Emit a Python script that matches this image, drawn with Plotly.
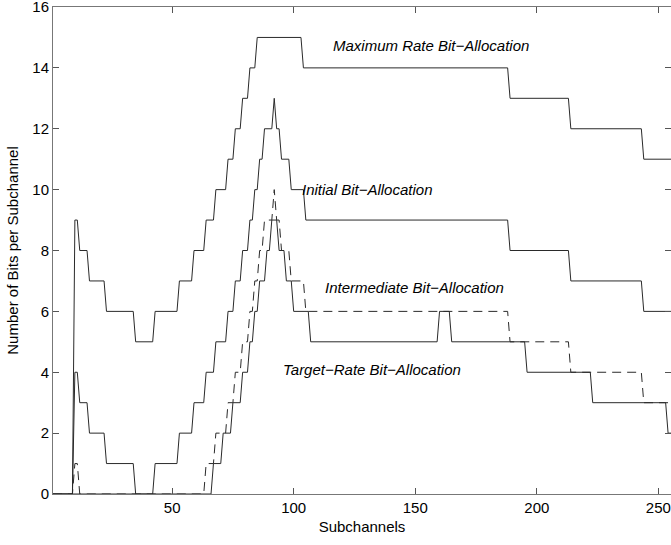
import plotly.graph_objects as go

N_SUB = 256
subchannels = list(range(1, N_SUB + 1))

# Run-length data: start subchannel of each run and its bit level
max_starts = [1, 10, 12, 16, 23, 35, 43, 53, 59, 64, 68, 73, 76, 79, 82, 85, 104, 189, 214, 244]
max_levels = [0, 9, 8, 7, 6, 5, 6, 7, 8, 9, 10, 11, 12, 13, 14, 15, 14, 13, 12, 11]

initial_starts = [1, 10, 12, 16, 23, 35, 43, 53, 59, 64, 68, 73, 76, 79, 82, 84, 86, 88, 92, 93, 95, 99, 105, 189, 214, 244]
initial_levels = [0, 4, 3, 2, 1, 0, 1, 2, 3, 4, 5, 6, 7, 8, 9, 10, 11, 12, 13, 12, 11, 10, 9, 8, 7, 6]

inter_starts = [1, 10, 12, 64, 68, 73, 76, 79, 82, 84, 86, 88, 92, 93, 95, 99, 105, 189, 214, 244]
inter_levels = [0, 1, 0, 1, 2, 3, 4, 5, 6, 7, 8, 9, 10, 9, 8, 7, 6, 5, 4, 3]

target_starts = [1, 67, 71, 75, 79, 82, 84, 86, 89, 91, 94, 97, 100, 107, 160, 165, 196, 223, 254]
target_levels = [0, 1, 2, 3, 4, 5, 6, 7, 8, 9, 8, 7, 6, 5, 6, 5, 4, 3, 2]

x_ticks = [50, 100, 150, 200, 250]
y_ticks = [0, 2, 4, 6, 8, 10, 12, 14, 16]

labels = ["Maximum Rate Bit\u2212Allocation", "Initial Bit\u2212Allocation",
          "Intermediate Bit\u2212Allocation", "Target\u2212Rate Bit\u2212Allocation"]
label_x = [115.5, 102.5, 112.0, 94.8]
label_y = [14.72, 9.99, 6.8, 4.1]


def expand(starts, levels, n=N_SUB):
    bounds = list(starts) + [n + 1]
    vals = []
    for i, lv in enumerate(levels):
        vals += [lv] * (bounds[i + 1] - bounds[i])
    return vals


FONT = "Liberation Sans, Arial, Helvetica, sans-serif"
LC = "#2a2a2a"

fig = go.Figure()
for starts, levels, dash in [(max_starts, max_levels, "solid"),
                             (initial_starts, initial_levels, "solid"),
                             (inter_starts, inter_levels, "9px,6px"),
                             (target_starts, target_levels, "solid")]:
    fig.add_trace(go.Scatter(x=subchannels, y=expand(starts, levels), mode="lines",
                             line=dict(color=LC, width=1, dash=dash),
                             showlegend=False, hoverinfo="skip"))

fig.add_trace(go.Scatter(x=[], y=[], yaxis="y2", showlegend=False, hoverinfo="skip"))

for t, xx, yy in zip(labels, label_x, label_y):
    fig.add_annotation(x=xx, y=yy, text=t, showarrow=False, xanchor="left", yanchor="middle",
                       font=dict(family=FONT, size=15, color="black", style="italic"))

# y-axis title placed as rotated text left of the tick labels
fig.add_annotation(xref="paper", yref="paper", x=-0.066, y=0.5, text="Number of Bits per Subchannel",
                   textangle=-90, showarrow=False, xanchor="center", yanchor="middle",
                   font=dict(family=FONT, size=15, color="black"))

axis_common = dict(ticks="inside", ticklen=6, tickcolor="#555", showgrid=False, zeroline=False,
                   linecolor="#777", linewidth=1, automargin=False, ticklabeloverflow="allow",
                   tickfont=dict(family=FONT, size=15, color="black"))

fig.update_layout(
    width=671, height=545,
    margin=dict(l=53, r=0, t=7, b=51, autoexpand=False),
    paper_bgcolor="white", plot_bgcolor="white",
    xaxis=dict(range=[1, 255.2], tickmode="array", tickvals=x_ticks, showline=True, mirror="ticks",
               title=dict(text="Subchannels", font=dict(family=FONT, size=15, color="black"), standoff=6),
               **axis_common),
    yaxis=dict(range=[0, 16], tickmode="array", tickvals=y_ticks, showline=True, mirror=False,
               **axis_common),
    yaxis2=dict(range=[0, 16], overlaying="y", side="right", tickmode="array", tickvals=y_ticks,
                ticks="inside", ticklen=6, tickcolor="#555", showline=False, showgrid=False,
                zeroline=False, showticklabels=False, automargin=False),
)

fig.write_html("out.html", config={"displayModeBar": False, "staticPlot": True},
               post_script="document.body.style.margin='0';document.body.style.overflow='hidden';")
